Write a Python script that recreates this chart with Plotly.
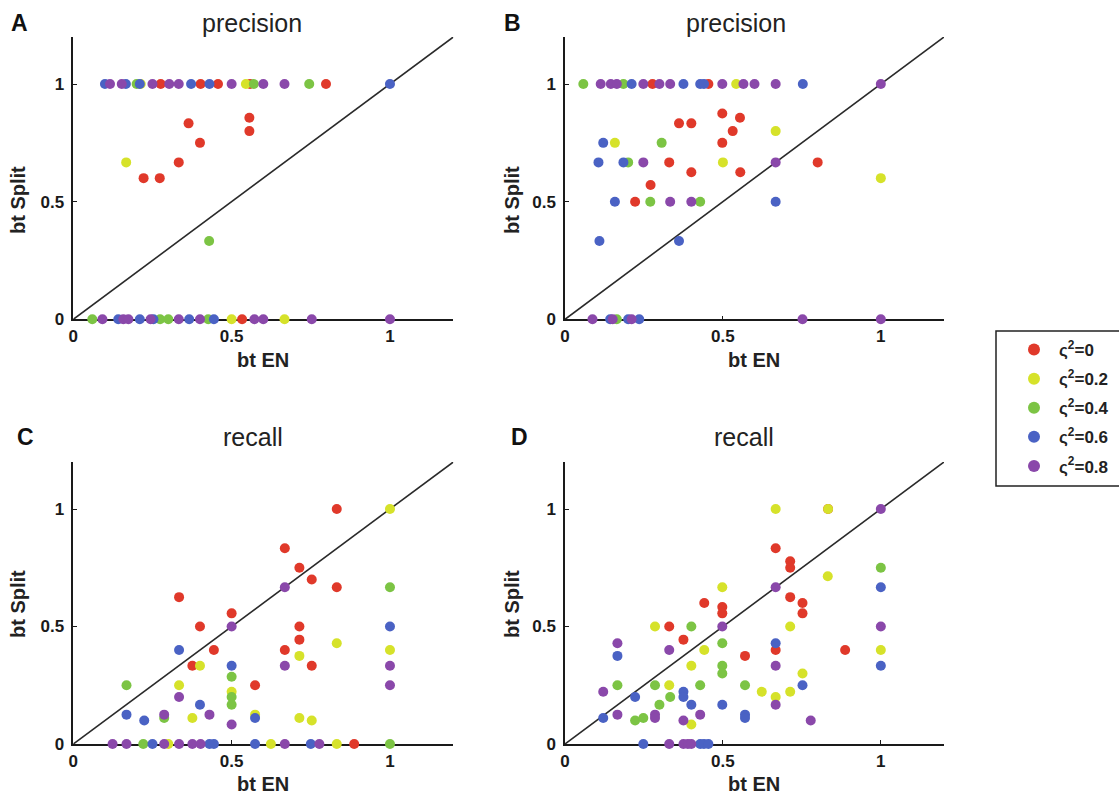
import plotly.graph_objects as go

# ---------------- data ----------------
series_names = ["ς<sup>2</sup>=0", "ς<sup>2</sup>=0.2", "ς<sup>2</sup>=0.4", "ς<sup>2</sup>=0.6", "ς<sup>2</sup>=0.8"]
series_colors = ["#e0392a", "#d6e22a", "#7cc444", "#4a62c4", "#8a48aa"]
tick_vals = [0, 0.5, 1]
tick_text = ["0", "0.5", "1"]
diag = [0, 1.2]

# Panel A (precision)
A_red_x = [0.276, 0.402, 0.457, 0.558, 0.798, 0.556, 0.556, 0.364, 0.4, 0.333, 0.222, 0.273, 0.533]
A_red_y = [1, 1, 1, 1, 1, 0.857, 0.8, 0.833, 0.75, 0.667, 0.6, 0.6, 0]
A_yel_x = [0.213, 0.545, 0.167, 0.5, 0.667]
A_yel_y = [1, 1, 0.667, 0, 0]
A_grn_x = [0.2, 0.57, 0.745, 0.429, 0.06, 0.274, 0.3, 0.426]
A_grn_y = [1, 1, 1, 0.333, 0, 0, 0, 0]
A_blu_x = [0.10, 0.166, 0.21, 0.372, 0.43, 1.0, 0.142, 0.21, 0.253, 0.366, 0.444]
A_blu_y = [1, 1, 1, 1, 1, 1, 0, 0, 0, 0, 0]
A_pur_x = [0.116, 0.153, 0.25, 0.303, 0.333, 0.5, 0.6, 0.667, 0.092, 0.158, 0.174, 0.244, 0.333, 0.4, 0.572, 0.6, 0.753, 1.0]
A_pur_y = [1, 1, 1, 1, 1, 1, 1, 1, 0, 0, 0, 0, 0, 0, 0, 0, 0, 0]

# Panel B (precision)
B_red_x = [0.277, 0.454, 0.498, 0.554, 0.361, 0.4, 0.531, 0.498, 0.33, 0.8, 0.4, 0.555, 0.271, 0.222]
B_red_y = [1, 1, 0.875, 0.857, 0.833, 0.833, 0.8, 0.75, 0.667, 0.667, 0.625, 0.625, 0.571, 0.5]
B_yel_x = [0.542, 0.667, 0.158, 0.5, 1.0]
B_yel_y = [1, 0.8, 0.75, 0.667, 0.6]
B_grn_x = [0.058, 0.185, 0.306, 0.2, 0.27, 0.428, 0.164]
B_grn_y = [1, 1, 0.75, 0.667, 0.5, 0.5, 0]
B_blu_x = [0.211, 0.375, 0.428, 0.44, 0.753, 0.121, 0.106, 0.185, 0.158, 0.667, 0.109, 0.361, 0.143, 0.2, 0.235]
B_blu_y = [1, 1, 1, 1, 1, 0.75, 0.667, 0.667, 0.5, 0.5, 0.333, 0.333, 0, 0, 0]
B_pur_x = [0.113, 0.145, 0.164, 0.248, 0.299, 0.333, 0.498, 0.565, 0.6, 0.667, 1.0, 0.248, 0.667, 0.333, 0.4, 0.087, 0.151, 0.211, 0.752, 1.0]
B_pur_y = [1, 1, 1, 1, 1, 1, 1, 1, 1, 1, 1, 0.667, 0.667, 0.5, 0.5, 0, 0, 0, 0, 0]

# Panel C (recall)
C_red_x = [0.832, 0.668, 0.714, 0.753, 0.832, 0.334, 0.5, 0.4, 0.714, 0.714, 0.444, 0.668, 0.376, 0.753, 0.574, 0.887]
C_red_y = [1.0, 0.833, 0.75, 0.7, 0.667, 0.625, 0.556, 0.5, 0.5, 0.444, 0.4, 0.4, 0.333, 0.333, 0.25, 0]
C_yel_x = [1.0, 0.832, 1.0, 0.714, 0.4, 0.334, 0.5, 0.574, 0.376, 0.714, 0.753, 0.3, 0.624, 0.832]
C_yel_y = [1.0, 0.429, 0.4, 0.375, 0.333, 0.25, 0.222, 0.125, 0.111, 0.111, 0.1, 0, 0, 0]
C_grn_x = [1.0, 0.5, 0.168, 0.5, 0.5, 0.287, 0.221, 1.0]
C_grn_y = [0.667, 0.286, 0.25, 0.2, 0.167, 0.111, 0, 0]
C_blu_x = [1.0, 0.334, 0.5, 0.4, 0.168, 0.574, 0.224, 0.25, 0.43, 0.444, 0.574, 0.75]
C_blu_y = [0.5, 0.4, 0.333, 0.167, 0.125, 0.111, 0.1, 0, 0, 0, 0, 0]
C_pur_x = [0.668, 0.5, 0.668, 1.0, 1.0, 0.334, 0.287, 0.43, 0.5, 0.124, 0.168, 0.287, 0.334, 0.376, 0.402, 0.668, 0.777]
C_pur_y = [0.667, 0.5, 0.333, 0.333, 0.25, 0.2, 0.125, 0.125, 0.083, 0, 0, 0, 0, 0, 0, 0, 0]

# Panel D (recall)
D_red_x = [0.833, 0.667, 0.713, 0.713, 0.713, 0.441, 0.752, 0.498, 0.498, 0.752, 0.33, 0.375, 0.667, 0.887, 0.57]
D_red_y = [1.0, 0.833, 0.778, 0.75, 0.625, 0.6, 0.6, 0.583, 0.556, 0.556, 0.5, 0.444, 0.4, 0.4, 0.375]
D_yel_x = [0.667, 0.833, 0.832, 0.498, 0.285, 0.713, 0.441, 1.0, 0.4, 0.752, 0.33, 0.623, 0.713, 0.667, 0.4]
D_yel_y = [1.0, 1.0, 0.714, 0.667, 0.5, 0.5, 0.4, 0.4, 0.333, 0.3, 0.25, 0.222, 0.222, 0.2, 0.083]
D_grn_x = [1.0, 0.4, 0.498, 0.498, 0.498, 0.166, 0.285, 0.428, 0.57, 0.333, 0.299, 0.222, 0.248]
D_grn_y = [0.75, 0.5, 0.429, 0.333, 0.3, 0.25, 0.25, 0.25, 0.25, 0.2, 0.167, 0.1, 0.111]
D_blu_x = [1.0, 0.667, 1.0, 0.166, 0.752, 0.375, 0.222, 0.375, 0.4, 0.498, 0.121, 0.57, 0.57, 0.248, 0.428, 0.44, 0.454]
D_blu_y = [0.667, 0.429, 0.333, 0.375, 0.25, 0.222, 0.2, 0.2, 0.167, 0.167, 0.111, 0.125, 0.111, 0, 0, 0, 0]
D_pur_x = [1.0, 0.667, 0.498, 1.0, 0.166, 0.33, 0.667, 0.121, 0.667, 0.166, 0.285, 0.285, 0.375, 0.428, 0.778, 0.33, 0.375, 0.389, 0.4]
D_pur_y = [1.0, 0.667, 0.5, 0.5, 0.429, 0.4, 0.333, 0.222, 0.167, 0.125, 0.125, 0.111, 0.1, 0.125, 0.1, 0, 0, 0, 0]

panel_titles = ["precision", "precision", "recall", "recall"]
panel_letters = ["A", "B", "C", "D"]
x_label = "bt EN"
y_label = "bt Split"

# ---------------- figure ----------------
W, H = 1119, 795
FONT = "Liberation Sans, Arial, Helvetica, sans-serif"

def px(x):
    return x / W

def py(y):
    return 1 - y / H

panels = [
    (A_red_x, A_red_y, A_yel_x, A_yel_y, A_grn_x, A_grn_y, A_blu_x, A_blu_y, A_pur_x, A_pur_y),
    (B_red_x, B_red_y, B_yel_x, B_yel_y, B_grn_x, B_grn_y, B_blu_x, B_blu_y, B_pur_x, B_pur_y),
    (C_red_x, C_red_y, C_yel_x, C_yel_y, C_grn_x, C_grn_y, C_blu_x, C_blu_y, C_pur_x, C_pur_y),
    (D_red_x, D_red_y, D_yel_x, D_yel_y, D_grn_x, D_grn_y, D_blu_x, D_blu_y, D_pur_x, D_pur_y),
]

# axes pixel boxes: (left, right, top, bottom)
boxes = [(73.3, 453.3, 37, 319.3), (565, 944, 37, 319.3),
         (73.3, 453.3, 462, 744), (565, 944, 462, 744)]

fig = go.Figure()
layout_axes = {}
for i, (pdata, box) in enumerate(zip(panels, boxes)):
    n = "" if i == 0 else str(i + 1)
    xa, ya = "x" + n, "y" + n
    fig.add_trace(go.Scatter(x=diag, y=diag, mode="lines", xaxis=xa, yaxis=ya,
                             line=dict(color="#2a2a2a", width=1.6), showlegend=False,
                             hoverinfo="skip"))
    for k in range(5):
        fig.add_trace(go.Scatter(
            x=pdata[2 * k], y=pdata[2 * k + 1], mode="markers", xaxis=xa, yaxis=ya,
            name=series_names[k], legendgroup="g%d" % k, showlegend=(i == 0),
            marker=dict(color=series_colors[k], size=10, line=dict(width=0)),
            cliponaxis=False))
    l, r, t, b = box
    common = dict(range=[0, 1.2], showgrid=False, zeroline=False, showline=True,
                  linecolor="#1a1a1a", linewidth=1.5, ticks="inside", ticklen=4,
                  tickwidth=1, tickcolor="#1a1a1a", tickvals=tick_vals, ticktext=tick_text,
                  tickfont=dict(family=FONT, size=17, color="#1a1a1a", weight="bold"),
                  layer="below traces", fixedrange=True, automargin=False)
    layout_axes["xaxis" + n] = dict(common, domain=[px(l), px(r)], anchor=ya,
                                    ticklabelstandoff=1)
    layout_axes["yaxis" + n] = dict(common, domain=[py(b), py(t)], anchor=xa,
                                    ticklabelstandoff=4)

fig.update_layout(**layout_axes)

annotations = []
letter_pos = [(19, 23), (512, 23), (25, 437), (519, 437)]
title_pos = [(252, 23), (736, 23), (253, 437), (744, 437)]
xlab_pos = [(263, 360), (754, 360), (263, 784), (754, 784)]
ylab_pos = [(18, 200), (512, 200), (18, 604), (512, 604)]
for i in range(4):
    base = dict(xref="paper", yref="paper", showarrow=False, xanchor="center", yanchor="middle")
    annotations.append(dict(base, text=panel_letters[i], x=px(letter_pos[i][0]), y=py(letter_pos[i][1]),
                            font=dict(family=FONT, size=23, color="#111", weight="bold")))
    annotations.append(dict(base, text=panel_titles[i], x=px(title_pos[i][0]), y=py(title_pos[i][1]),
                            font=dict(family=FONT, size=25, color="#222")))
    annotations.append(dict(base, text=x_label, x=px(xlab_pos[i][0]), y=py(xlab_pos[i][1]),
                            font=dict(family=FONT, size=20, color="#222", weight="bold")))
    annotations.append(dict(base, text=y_label, x=px(ylab_pos[i][0]), y=py(ylab_pos[i][1]),
                            textangle=-90,
                            font=dict(family=FONT, size=20, color="#222", weight="bold")))

# legend frame (extends past the right edge, as in the reference)
shapes = [dict(type="rect", xref="paper", yref="paper",
               x0=px(996), x1=px(1130), y0=py(486), y1=py(331),
               line=dict(color="#222", width=1.5), fillcolor="white", layer="below")]

fig.update_layout(
    template="none",
    width=W, height=H,
    margin=dict(l=0, r=0, t=0, b=0, pad=0, autoexpand=False),
    paper_bgcolor="white", plot_bgcolor="white",
    annotations=annotations,
    shapes=shapes,
    showlegend=True,
    legend=dict(x=px(1009), y=py(332), xanchor="left", yanchor="top",
                borderwidth=0, bgcolor="rgba(0,0,0,0)",
                font=dict(family=FONT, size=17, color="#222", weight="bold"),
                tracegroupgap=4, itemsizing="constant", itemwidth=40),
)

fig.write_html("out.html", config={"displayModeBar": False},
               post_script="document.body.style.margin='0px';")
